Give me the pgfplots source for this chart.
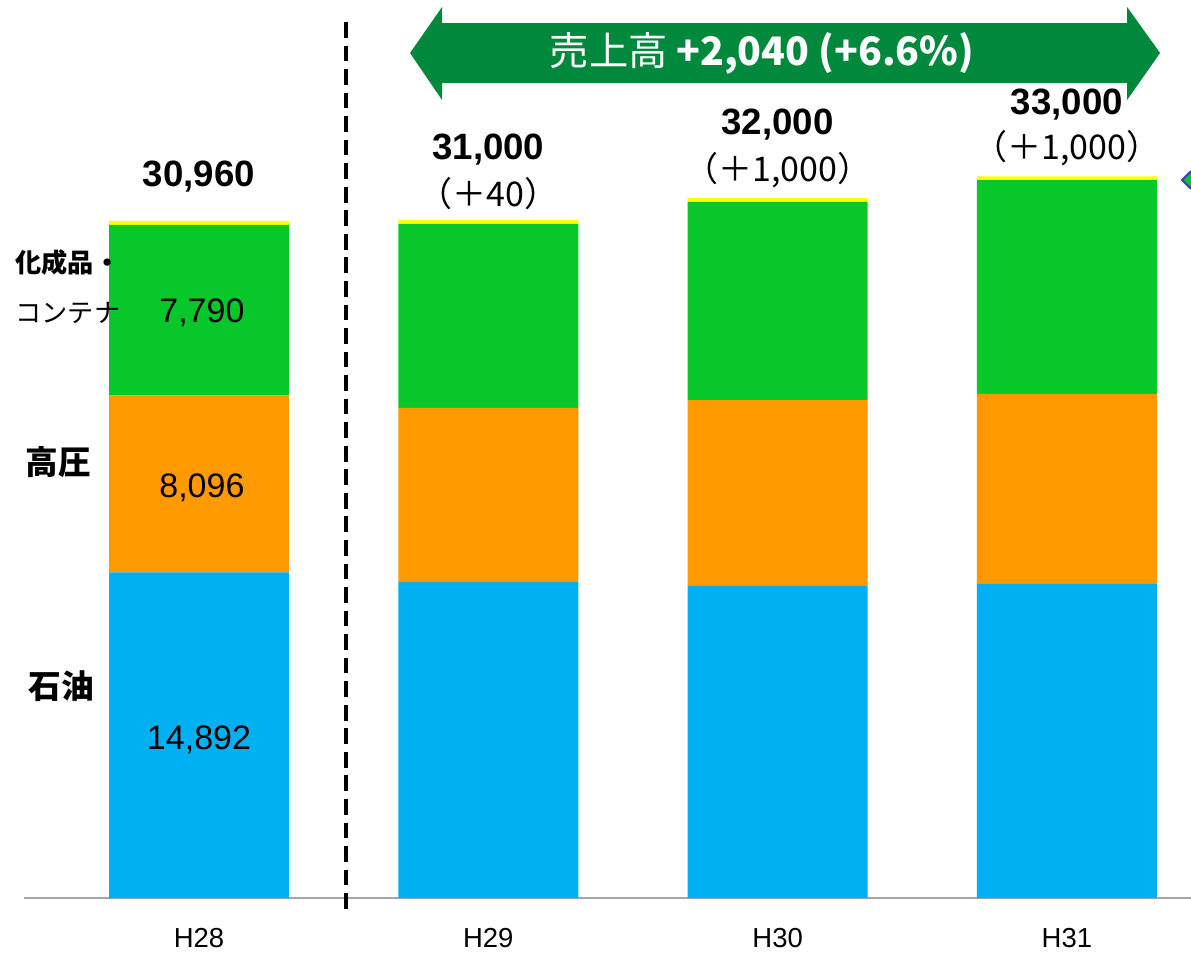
\documentclass[border=0pt]{standalone}
\usepackage{pgfplots}
\pgfplotsset{compat=1.18}
\usepackage{fontspec}
\setmainfont{Liberation Sans}
\newfontfamily\jp{Noto Sans CJK JP}
\definecolor{cblue}{HTML}{00B0F0}
\definecolor{corange}{HTML}{FF9900}
\definecolor{cgreen}{HTML}{08C72A}
\definecolor{cyellow}{HTML}{FFFF00}
\definecolor{darrow}{HTML}{00893C}
\begin{document}
\begin{tikzpicture}
\begin{axis}[
  scale only axis,
  width=15.678cm, height=12.064cm,
  xmin=-0.6049, xmax=3.4289,
  ymin=0, ymax=41066,
  ybar stacked, bar width=0.622,
  axis x line=bottom, axis y line=none,
  x axis line style={-, draw=gray!70, line width=0.8pt},
  xtick={0,1,2,3}, xticklabels={H28,H29,H30,H31},
  major tick length=0pt,
  xticklabel style={font=\fontsize{10.5}{12}\selectfont, yshift=-8pt},
  ytick=\empty,
  clip=false,
]
\addplot[fill=cblue, draw=none] coordinates {(0,14892) (1,14450) (2,14270) (3,14360)};
\addplot[fill=corange, draw=none] coordinates {(0,8096) (1,7960) (2,8500) (3,8690)};
\addplot[fill=cgreen, draw=none] coordinates {(0,7790) (1,8420) (2,9060) (3,9780)};
\addplot[fill=cyellow, draw=none] coordinates {(0,182) (1,170) (2,170) (3,170)};

% anchor coordinates for annotations
\coordinate (d1) at (axis cs:0.508,40060);
\coordinate (d2) at (axis cs:0.508,-823);
\coordinate (a1) at (axis cs:0.7293,38642);
\coordinate (a2) at (axis cs:0.840,40745);
\coordinate (a3) at (axis cs:0.840,40014);
\coordinate (a4) at (axis cs:3.208,40014);
\coordinate (a5) at (axis cs:3.208,40745);
\coordinate (a6) at (axis cs:3.322,38642);
\coordinate (a7) at (axis cs:3.208,36493);
\coordinate (a8) at (axis cs:3.208,37270);
\coordinate (a9) at (axis cs:0.840,37270);
\coordinate (a10) at (axis cs:0.840,36493);
\coordinate (at) at (axis cs:1.946,38642);
\coordinate (q1) at (axis cs:3.398,32834);
\coordinate (q2) at (axis cs:3.4256,33200);
\coordinate (q3) at (axis cs:3.4532,32834);
\coordinate (q4) at (axis cs:3.4256,32468);
\coordinate (t0) at (axis cs:0,32971);
\coordinate (t1) at (axis cs:1,34206);
\coordinate (p1) at (axis cs:1,32194);
\coordinate (t2) at (axis cs:2,35349);
\coordinate (p2) at (axis cs:2,33291);
\coordinate (t3) at (axis cs:3,36264);
\coordinate (p3) at (axis cs:3,34298);
\coordinate (v1) at (axis cs:0.01,26752);
\coordinate (v2) at (axis cs:0.01,18749);
\coordinate (v3) at (axis cs:0,7225);
\coordinate (n1) at (axis cs:-0.636,29039);
\coordinate (n2) at (axis cs:-0.636,26752);
\coordinate (n3) at (axis cs:-0.601,19938);
\coordinate (n4) at (axis cs:-0.591,9695);
\end{axis}

\draw[black, line width=1.4pt, dash pattern=on 6pt off 3pt] (d1) -- (d2);
\fill[darrow] (a1) -- (a2) -- (a3) -- (a4) -- (a5) -- (a6) -- (a7) -- (a8) -- (a9) -- (a10) -- cycle;
\node[text=white, font=\jp\fontsize{15}{17}\selectfont] at (at) {売上高 \textbf{+2,040 (+6.6\%)}};
\filldraw[fill=cgreen, draw=blue!50!gray, line width=0.8pt] (q1) -- (q2) -- (q3) -- (q4) -- cycle;

\node[font=\bfseries\fontsize{14}{16}\selectfont] at (t0) {30,960};
\node[font=\bfseries\fontsize{14}{16}\selectfont] at (t1) {31,000};
\node[font=\jp\fontsize{13}{15}\selectfont] at (p1) {（＋40）};
\node[font=\bfseries\fontsize{14}{16}\selectfont] at (t2) {32,000};
\node[font=\jp\fontsize{13}{15}\selectfont] at (p2) {（＋1,000）};
\node[font=\bfseries\fontsize{14}{16}\selectfont] at (t3) {33,000};
\node[font=\jp\fontsize{13}{15}\selectfont] at (p3) {（＋1,000）};

\node[font=\fontsize{13}{15}\selectfont] at (v1) {7,790};
\node[font=\fontsize{13}{15}\selectfont] at (v2) {8,096};
\node[font=\fontsize{13}{15}\selectfont] at (v3) {14,892};

\node[anchor=west, inner sep=0pt, font=\jp\bfseries\fontsize{10}{12}\selectfont] at (n1) {化成品・};
\node[anchor=west, inner sep=0pt, font=\jp\fontsize{10}{12}\selectfont] at (n2) {コンテナ};
\node[anchor=west, inner sep=0pt, font=\jp\bfseries\fontsize{12.5}{14}\selectfont] at (n3) {高圧};
\node[anchor=west, inner sep=0pt, font=\jp\bfseries\fontsize{12.5}{14}\selectfont] at (n4) {石油};

\pgfresetboundingbox
\path (-0.3224,-0.7523) rectangle (15.678,12.064);
\end{tikzpicture}
\end{document}
